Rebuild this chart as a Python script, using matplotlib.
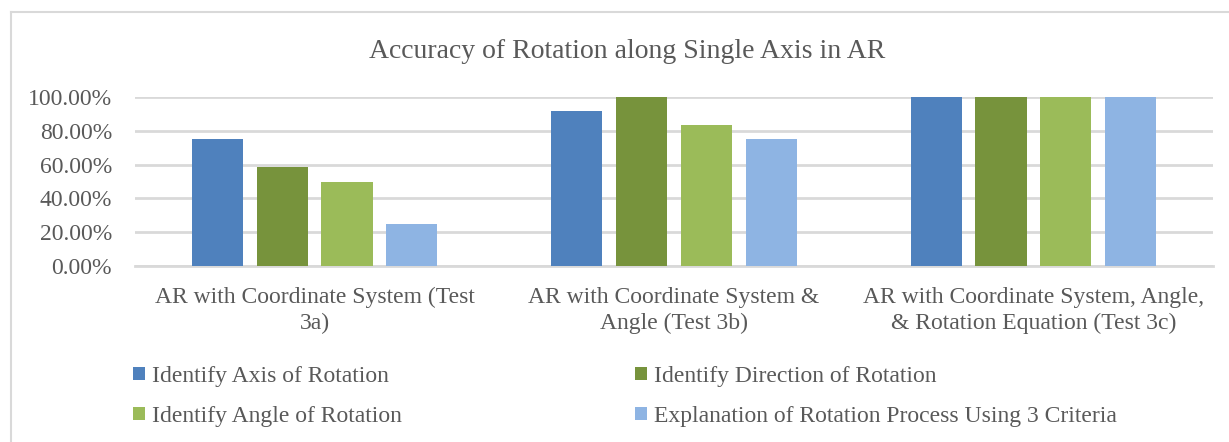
import numpy as np
import matplotlib
matplotlib.use('Agg')
import matplotlib.pyplot as plt
from matplotlib.patches import Patch
from matplotlib.ticker import FuncFormatter

groups = ['AR with Coordinate System (Test\n3a)',
          'AR with Coordinate System &\nAngle (Test 3b)',
          'AR with Coordinate System, Angle,\n& Rotation Equation (Test 3c)']
series = ['Identify Axis of Rotation',
          'Identify Direction of Rotation',
          'Identify Angle of Rotation',
          'Explanation of Rotation Process Using 3 Criteria']
values = [
    [0.75, 0.9167, 1.0],
    [0.5833, 1.0, 1.0],
    [0.50, 0.8333, 1.0],
    [0.25, 0.75, 1.0],
]
colors = ['#4F81BD', '#77933C', '#9BBB59', '#8EB4E3']

plt.rcParams['font.family'] = ['Liberation Serif', 'DejaVu Serif']
txt = '#595959'

fig = plt.figure(figsize=(12.29, 4.42), dpi=100)
ax = fig.add_axes([135 / 1229, 1 - 266 / 442, 1078 / 1229, 169 / 442])

x = np.arange(len(groups))
w = 0.142
offsets = [-0.27, -0.09, 0.09, 0.27]
for i, s in enumerate(series):
    ax.bar(x + offsets[i], values[i], w, color=colors[i], label=s, zorder=3)

ax.set_xlim(-0.5, 2.5)
ax.set_ylim(0, 1.0)
ax.set_yticks(np.arange(0, 1.01, 0.2))
ax.yaxis.set_major_formatter(FuncFormatter(lambda v, p: f'{v * 100:.2f}%'))
ax.set_xticks(x)
ax.set_xticklabels(groups, fontsize=17, color=txt, linespacing=1.3)
ax.tick_params(axis='y', labelsize=17, labelcolor=txt, length=0, pad=16.5)
ax.tick_params(axis='x', length=0, pad=15)
ax.grid(axis='y', color='#D9D9D9', linewidth=2, zorder=0)
for sp in ['top', 'right', 'left']:
    ax.spines[sp].set_visible(False)
ax.spines['bottom'].set_color('#D9D9D9')
ax.spines['bottom'].set_linewidth(2)
ax.spines['bottom'].set_zorder(1)

fig.text(627 / 1229, 1 - 52 / 442, 'Accuracy of Rotation along Single Axis in AR',
         ha='center', va='center', fontsize=20, color=txt)

# chart border (top and left visible)
fig.add_artist(plt.Line2D([11 / 1229, 11 / 1229], [0, 1 - 12 / 442],
                          color='#D9D9D9', linewidth=1.5))
fig.add_artist(plt.Line2D([11 / 1229, 1], [1 - 12 / 442, 1 - 12 / 442],
                          color='#D9D9D9', linewidth=1.5))

handles = [Patch(facecolor=c) for c in colors]
leg_kw = dict(frameon=False, fontsize=17, handlelength=0.5, handleheight=0.5,
              handletextpad=0.3, labelspacing=0.8, borderpad=0, borderaxespad=0,
              labelcolor=txt, loc='upper left')
fig.legend([handles[0], handles[2]], [series[0], series[2]],
           bbox_to_anchor=(133 / 1229, 1 - 366 / 442), **leg_kw)
fig.legend([handles[1], handles[3]], [series[1], series[3]],
           bbox_to_anchor=(635 / 1229, 1 - 366 / 442), **leg_kw)

fig.savefig('out.png', dpi=100, facecolor='white')
